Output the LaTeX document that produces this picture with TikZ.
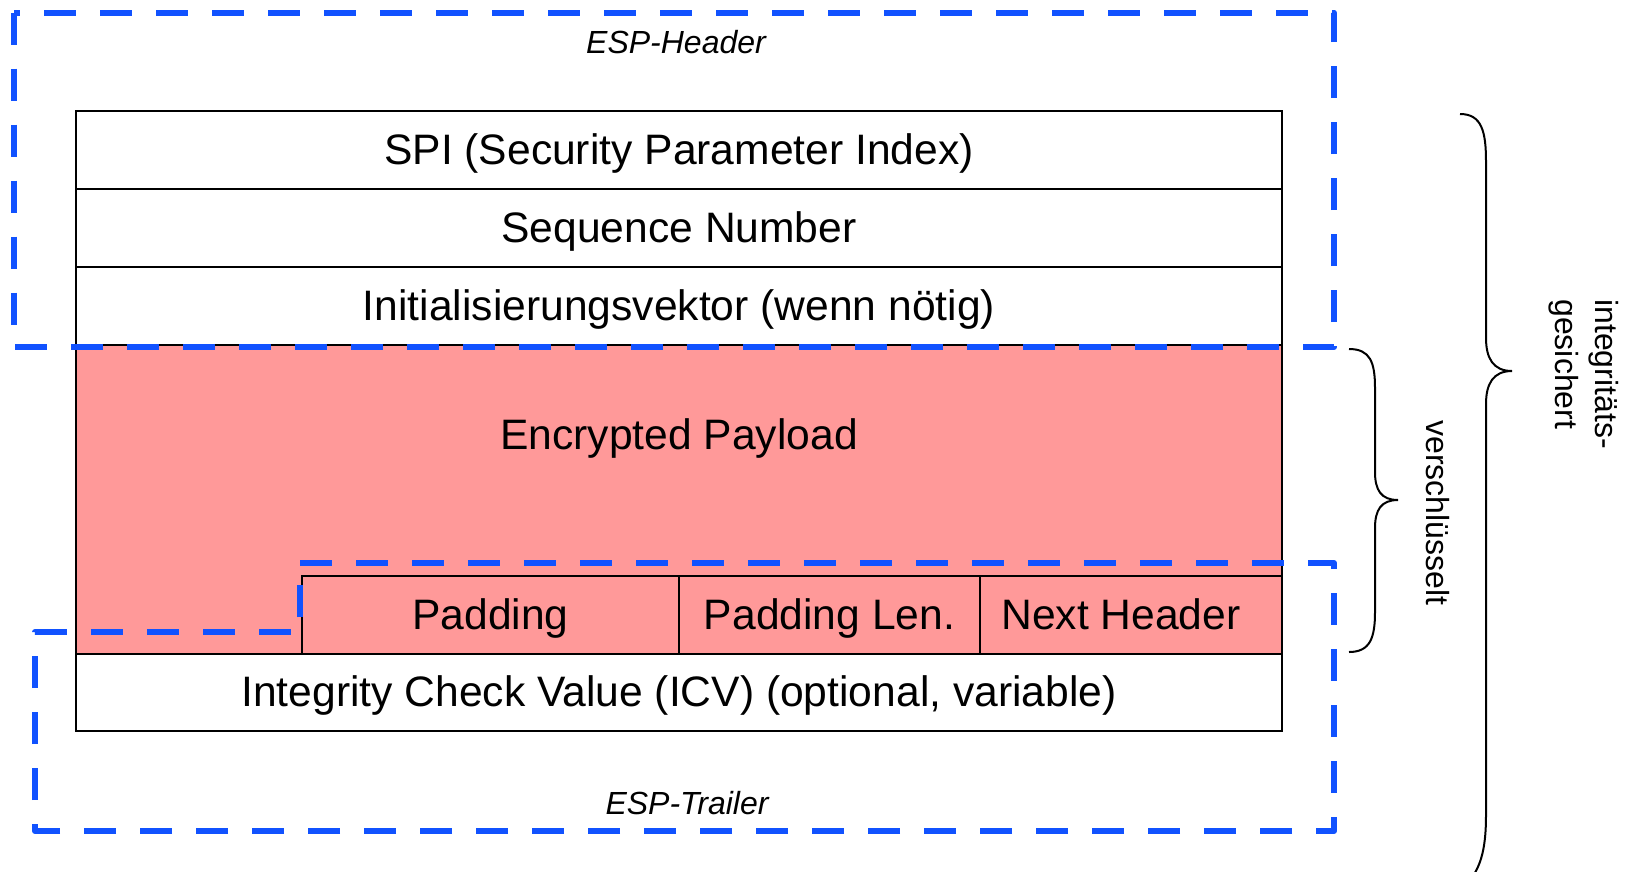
\documentclass[tikz,border=0pt]{standalone}
\usepackage{fontspec}
\setmainfont{Liberation Sans}
\definecolor{espblue}{RGB}{17,82,255}
\definecolor{encpink}{RGB}{255,153,153}
\begin{document}
\begin{tikzpicture}[x=1pt,y=-1pt,
  field/.style={draw=black, line width=2pt, minimum height=78pt, inner sep=0pt,
    text height=32pt, text depth=4pt,
    font=\fontsize{42.6}{50}\selectfont, anchor=center},
  wide/.style={field, minimum width=1206pt},
  cell/.style={field, fill=encpink},
  espdash/.style={draw=espblue, line width=6pt, dash pattern=on 32pt off 24pt, line join=round},
  esplabel/.style={font=\fontsize{32}{38}\selectfont\itshape, inner sep=0pt},
  bracelbl/.style={font=\fontsize{32}{40}\selectfont, inner sep=0pt, rotate=-90, align=left},
  bracepath/.style={draw=black, line width=2pt}]
\useasboundingbox (0,0) rectangle (1630,871);
% payload area
\node[wide, fill=encpink, minimum height=309pt, text height=0pt, text depth=0pt] (payload) at (679,499.5) {};
\node[wide] (spi) at (679,150) {SPI (Security Parameter Index)};
\node[wide] (seq) at (679,228) {Sequence Number};
\node[wide] (iv) at (679,306) {Initialisierungsvektor (wenn nötig)};
\node[font=\fontsize{42.6}{50}\selectfont, inner sep=0pt, text height=32pt, text depth=4pt] (enc) at (679,435) {Encrypted Payload};
\node[cell, minimum width=377pt] (pad) at (490.5,615) {Padding};
\node[cell, minimum width=301pt] (padlen) at (829.5,615) {Padding Len.};
\node[cell, minimum width=302pt] (nh) at (1131,615) {Next Header\hspace*{20pt}};
\node[wide, minimum height=77pt] (icv) at (679,692.5) {Integrity Check Value (ICV) (optional, variable)};
% ESP header / trailer outlines
\draw[espdash] (13.5,12.5) rectangle (1334,347);
\draw[espdash] (300,563) -- (1334,563) -- (1334,831) -- (35,831) -- (35,632) -- (300,632) -- cycle;
\node[esplabel] (hdr) at (676,42) {ESP-Header};
\node[esplabel] (trl) at (687,803) {ESP-Trailer};
% braces
\draw[bracepath] (1349,349) .. controls (1370,349) and (1375,362) .. (1375,388)
  -- (1375,472) .. controls (1375,490) and (1381,500) .. (1398,500)
  .. controls (1381,500) and (1375,510) .. (1375,528)
  -- (1375,612) .. controls (1375,638) and (1370,652) .. (1349,652);
\draw[bracepath] (1460,114) .. controls (1482,114) and (1486,132) .. (1486,162)
  -- (1486,338) .. controls (1486,358) and (1493,371) .. (1512,371)
  .. controls (1493,371) and (1486,384) .. (1486,404)
  -- (1486,815) .. controls (1486,845) and (1482,865) .. (1470,880);
\node[bracelbl] (versch) at (1438,513) {verschlüsselt};
\node[bracelbl] (integ) at (1584,374) {integritäts-\\gesichert};
\end{tikzpicture}
\end{document}
